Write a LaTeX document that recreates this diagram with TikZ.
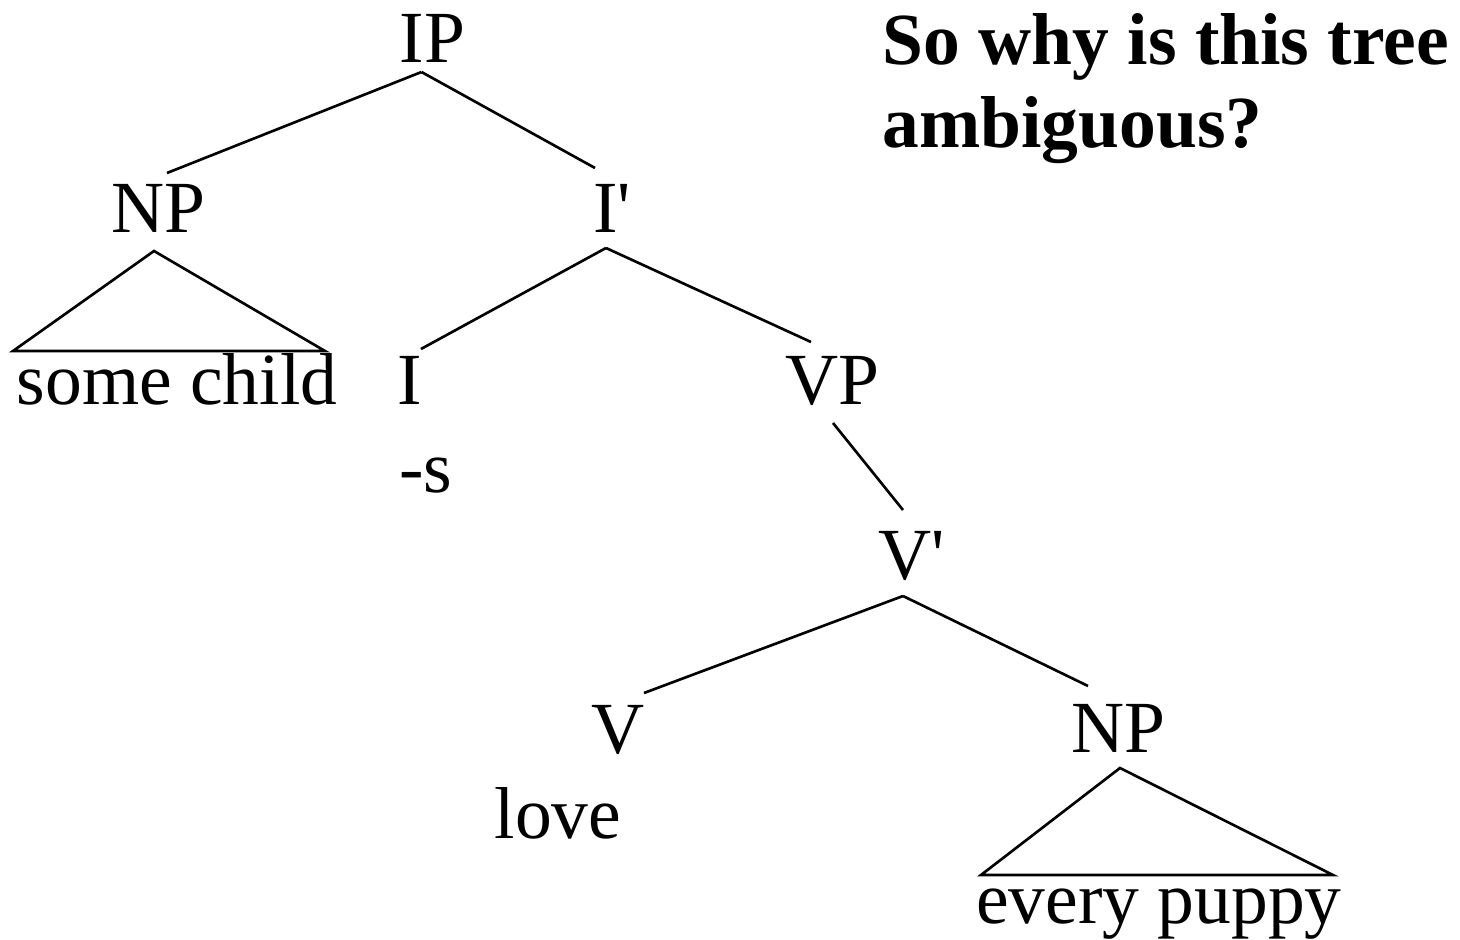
\documentclass[tikz,border=0pt]{standalone}
\usepackage{fontspec}
\setmainfont{Liberation Serif}
\usetikzlibrary{calc}

\tikzset{
    % Category labels (IP, NP, ...)
    catnode/.style={
        anchor=base,
        inner sep=0pt,
        font=\fontsize{20.9}{25}\selectfont
    },
    % Terminal words
    wordnode/.style={
        catnode
    },
    % Tree branches
    branch/.style={
        draw=black,
        line width=0.75pt,
        line join=miter
    },
    % Question text
    titletext/.style={
        anchor=north west,
        inner sep=0pt,
        align=left,
        font=\fontsize{20.9}{23.6}\selectfont\bfseries
    }
}

\begin{document}
\begin{tikzpicture}[x=0.01cm, y=-0.01cm]

\useasboundingbox (0,0) rectangle (1460,940);

% ==================== QUESTION ====================
\node[titletext] (question) at (882,13) {So why is this tree\\ambiguous?};

% ==================== UPPER TREE ====================
\node[catnode] (ip) at (432.5,63) {IP};
\node[catnode] (np1) at (158,233) {NP};
\node[catnode] (ibar) at (612,233) {I\textquotesingle};

\draw[branch] ($(ip.base)+(-11,9)$) -- ($(np1.base)+(9,-60)$);
\draw[branch] ($(ip.base)+(-11,9)$) -- ($(ibar.base)+(-17,-65)$);

% subject NP
\node[wordnode] (somechild) at (177,405) {some child};
\draw[branch] ($(np1.base)+(-4,18)$) -- ($(somechild.base)+(-164,-54)$)
    -- ($(somechild.base)+(148,-54)$) -- cycle;

% ==================== I-BAR ====================
\node[catnode] (infl) at (410,405) {I};
\node[catnode] (vp) at (832,405) {VP};
\node[wordnode] (suffix) at (426,493) {-s};

\draw[branch] ($(ibar.base)+(-6,15)$) -- ($(infl.base)+(11,-56)$);
\draw[branch] ($(ibar.base)+(-6,15)$) -- ($(vp.base)+(-21,-63)$);

% ==================== VP ====================
\node[catnode] (vbar) at (912,580) {V\textquotesingle};
\draw[branch] ($(vp.base)+(1,18)$) -- ($(vbar.base)+(-9,-70)$);

\node[catnode] (verb) at (618,753) {V};
\node[catnode] (np2) at (1118,752) {NP};
\node[wordnode] (love) at (558,838) {love};

\draw[branch] ($(vbar.base)+(-9,16)$) -- ($(verb.base)+(26,-60)$);
\draw[branch] ($(vbar.base)+(-9,16)$) -- ($(np2.base)+(-30,-66)$);

% object NP
\node[wordnode] (everypuppy) at (1159,923) {every puppy};
\draw[branch] ($(np2.base)+(2,16)$) -- ($(everypuppy.base)+(-178,-48)$)
    -- ($(everypuppy.base)+(174,-48)$) -- cycle;

\end{tikzpicture}
\end{document}
